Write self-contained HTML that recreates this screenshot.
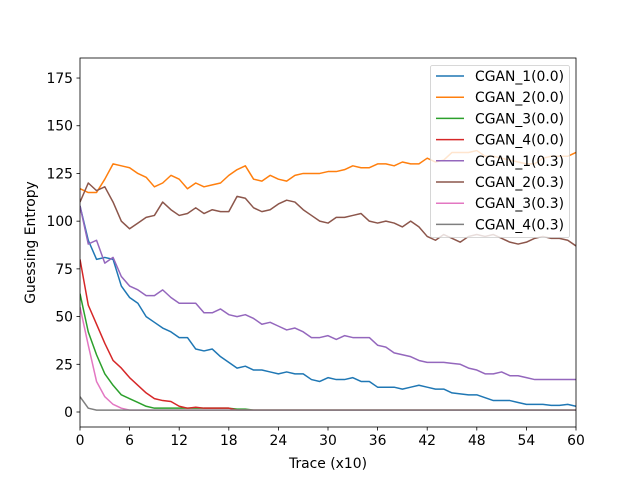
<!DOCTYPE html>
<html><head><meta charset="utf-8">
<style>
body{margin:0;background:#fff;}
svg text{font-family:"DejaVu Sans","Liberation Sans",sans-serif;}
</style></head>
<body>
<svg id="chart" width="640" height="480" xmlns="http://www.w3.org/2000/svg"></svg>
<script>
const seriesNames = ["CGAN_1(0.0)","CGAN_2(0.0)","CGAN_3(0.0)","CGAN_4(0.0)","CGAN_1(0.3)","CGAN_2(0.3)","CGAN_3(0.3)","CGAN_4(0.3)"];
const colors = ["#1f77b4","#ff7f0e","#2ca02c","#d62728","#9467bd","#8c564b","#e377c2","#7f7f7f"];
const xTicks = [0,6,12,18,24,30,36,42,48,54,60];
const yTicks = [0,25,50,75,100,125,150,175];
function pad(a){while(a.length<61)a.push(a[a.length-1]);return a;}
const s1 = [108,90,80,81,80,66,60,57,50,47,44,42,39,39,33,32,33,29,26,23,24,22,22,21,20,21,20,20,17,16,18,17,17,18,16,16,13,13,13,12,13,14,13,12,12,10,9.5,9,9,7.5,6,6,6,5,4,4,4,3.5,3.5,4,3];
const s2 = [117,115,115,122,130,129,128,125,123,118,120,124,122,117,120,118,119,120,124,127,129,122,121,124,122,121,124,125,125,125,126,126,127,129,128,128,130,130,129,131,130,130,133,131,132,136,136,136,137,134,134,133,132,131,130,130,133,134,134,134,136];
const s3 = pad([62,42,30,20,14,9,7,5,3,2,2,2,2,2,2,2,2,2,2,1.5,1.5,1]);
const s4 = pad([80,56,46,36,27,23,18,14,10,7,6,5.5,3,2,2.5,2,2,2,2,1,1,1]);
const s5 = [108,88,90,78,81,71,66,64,61,61,64,60,57,57,57,52,52,54,51,50,51,49,46,47,45,43,44,42,39,39,40,38,40,39,39,39,35,34,31,30,29,27,26,26,26,25.5,25,23,22,20,20,21,19,19,18,17,17,17,17,17,17];
const s6 = [110,120,116,118,110,100,96,99,102,103,110,106,103,104,107,104,106,105,105,113,112,107,105,106,109,111,110,106,103,100,99,102,102,103,104,100,99,100,99,97,100,97,92,90,93,91,89,92,93,92,93,91,89,88,89,91,92,91,91,90,87];
const s7 = pad([55,35,16,8,4,2,1,1]);
const s8 = pad([8,2,1,1]);
const allSeries = [s1,s2,s3,s4,s5,s6,s7,s8];

const L=80,R=576,T=58,B=427,xmin=0,xmax=60,ymin=-7.86,ymax=185.5;
const X=v=>L+(v-xmin)/(xmax-xmin)*(R-L);
const Y=v=>B-(v-ymin)/(ymax-ymin)*(B-T);
const svg=document.getElementById('chart');
const NS="http://www.w3.org/2000/svg";
function mk(tag,attrs,parent){const e=document.createElementNS(NS,tag);for(const k in attrs)e.setAttribute(k,attrs[k]);(parent||svg).appendChild(e);return e;}

const clip=mk('clipPath',{id:'cp'});mk('rect',{x:L,y:T,width:R-L,height:B-T},clip);
const lines=mk('g',{'clip-path':'url(#cp)'});


allSeries.forEach((s,i)=>{
  const p=mk('polyline',{points:s.map((v,j)=>X(j)+','+Y(v)).join(' '),fill:'none',stroke:colors[i],'stroke-width':1.5,'stroke-linejoin':'round'},lines);
  
  
});
const frame=mk('rect',{x:L,y:T,width:R-L,height:B-T,fill:'none',stroke:'#000','stroke-width':0.8});


xTicks.forEach(t=>{
  mk('line',{x1:X(t),x2:X(t),y1:B,y2:B+3.5,stroke:'#000','stroke-width':0.8});
  const tx=mk('text',{x:X(t),y:B+18,'font-size':13.9,'text-anchor':'middle'});tx.textContent=t;
  
  
});
yTicks.forEach(t=>{
  mk('line',{x1:L-3.5,x2:L,y1:Y(t),y2:Y(t),stroke:'#000','stroke-width':0.8});
  const tx=mk('text',{x:L-7,y:Y(t)+5,'font-size':13.9,'text-anchor':'end'});tx.textContent=t;
  
  
});
const xt=mk('text',{x:(L+R)/2,y:468,'font-size':13.9,'text-anchor':'middle'});xt.textContent='Trace (x10)';


const yt=mk('text',{x:0,y:0,'font-size':13.9,'text-anchor':'middle',transform:'translate(35,'+((T+B)/2)+') rotate(-90)'});yt.textContent='Guessing Entropy';


const lg=mk('g',{});


mk('rect',{x:430.5,y:65.5,width:139,height:172,rx:2,fill:'#fff','fill-opacity':0.8,stroke:'#ccc','stroke-width':0.8},lg);
seriesNames.forEach((n,i)=>{
  const yy=76+i*21.2;
  const g=mk('g',{},lg);
  
  
  mk('line',{x1:436,x2:464,y1:yy,y2:yy,stroke:colors[i],'stroke-width':1.5},g);
  const tx=mk('text',{x:475,y:yy+5,'font-size':13.9},g);tx.textContent=n;
});
</script>
</body></html>
